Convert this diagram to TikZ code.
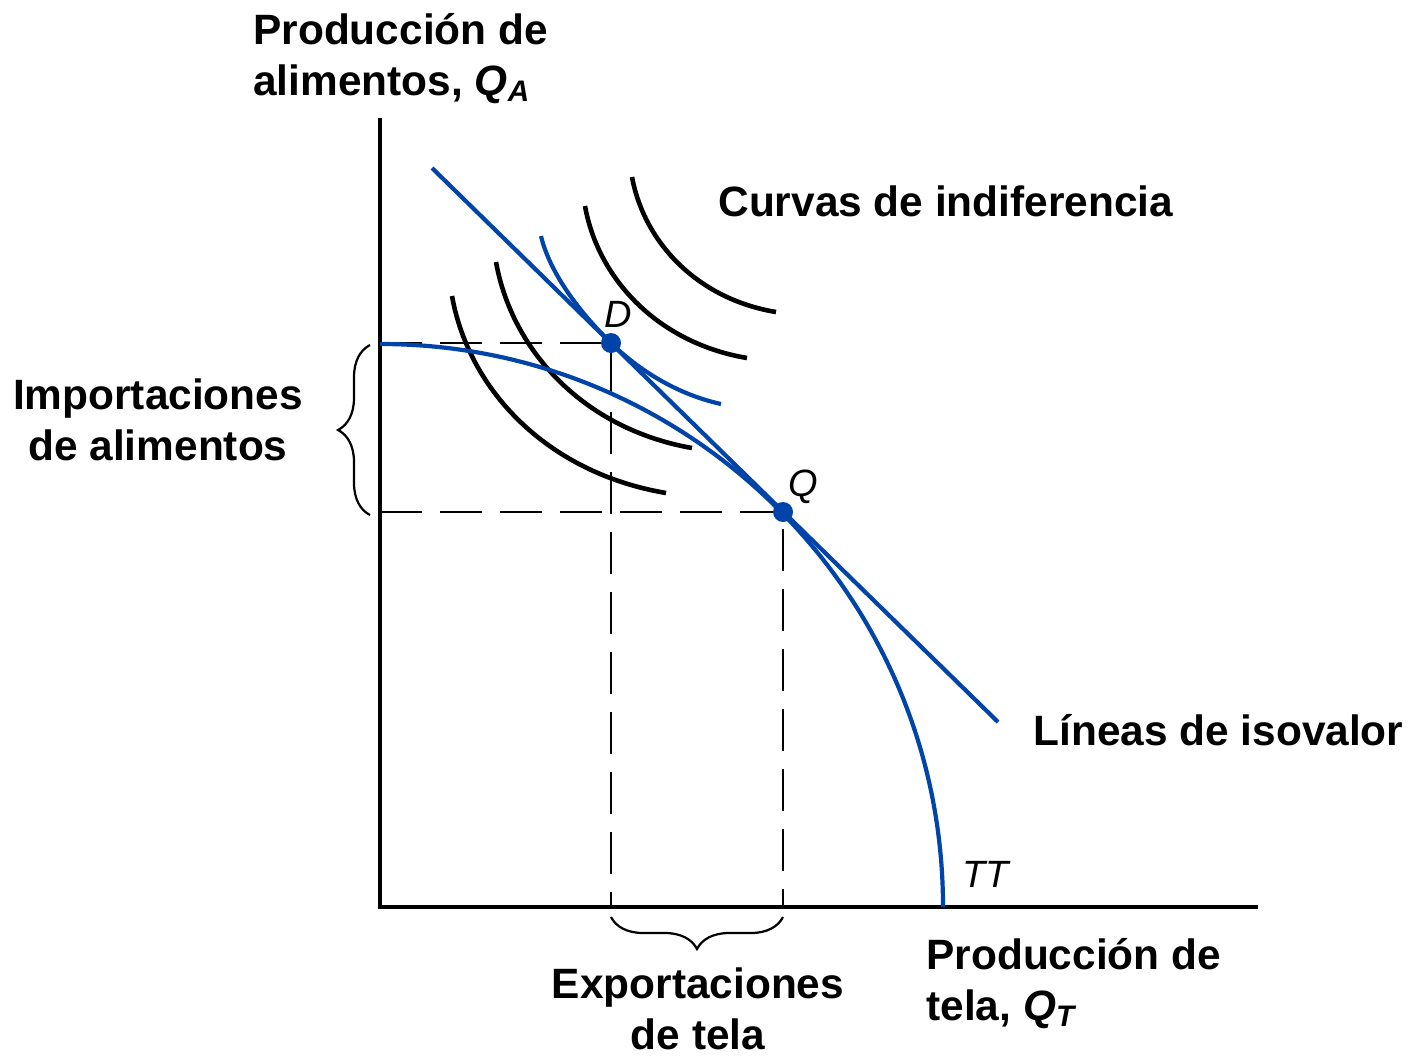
\documentclass[tikz,border=0pt]{standalone}
\usepackage{fontspec}
\setmainfont{Liberation Sans}
\usetikzlibrary{decorations.pathreplacing}
\definecolor{ttblue}{RGB}{0,68,170}

\begin{document}
\begin{tikzpicture}[x=0.5pt,y=-0.5pt,
    icurve/.style={line width=2.3pt},
    bluecurve/.style={ttblue,line width=2.1pt},
    guide/.style={line width=1.3pt,dash pattern=on 21pt off 9pt},
    bracket/.style={line width=1.1pt,decorate,decoration={brace,amplitude=16pt}},
    lbl/.style={font=\bfseries\fontsize{21.2}{25.5}\selectfont,inner sep=0pt},
    ptlbl/.style={font=\itshape\fontsize{19}{22}\selectfont,inner sep=0pt}]
\useasboundingbox (0,0) rectangle (1411,1060);
\coordinate (O) at (380,907);
\coordinate (D) at (611,343);
\coordinate (Q) at (783,512);

% axes
\draw[line width=2.1pt] (380,118) coordinate (ytop) -- (O) -- (1258,907) coordinate (xend);

% guides
\draw[guide] (380,343) -- (D) -- (611,907);
\draw[guide] (380,512) -- (Q) -- (783,907);

% indifference curves
\draw[icurve] (452,296) .. controls (469,391) and (548,473) .. (666,493);
\draw[icurve] (496,262) .. controls (512,351) and (584,429) .. (692,448);
\draw[icurve] (585,206) .. controls (598,279) and (658,343) .. (747,358);
\draw[icurve] (632,177) .. controls (644,242) and (697,299) .. (776,312);
\draw[bluecurve] (541,236) .. controls (548,266) and (571,303.8) .. (D)
    .. controls (641,372.4) and (680,395) .. (721,404);

% production frontier and isovalue line
\draw[bluecurve] (380,344) arc[start angle=90,end angle=0,radius=281.5pt] coordinate (TTend);
\draw[bluecurve] (432,168) coordinate (L1) -- (998,722) coordinate (L2);
\fill[ttblue] (D) circle[radius=5pt];
\fill[ttblue] (Q) circle[radius=5pt];

% braces
\draw[bracket] (370,515) -- (370,345);
\draw[bracket] (783,917) -- (611,917);

% labels
\node[ptlbl,anchor=base west] (Dlbl) at (604,327) {D};
\node[ptlbl,anchor=base west] (Qlbl) at (788,496) {Q};
\node[ptlbl,anchor=base west] (TTlbl) at (962,887) {TT};
\node[lbl,anchor=base west,align=left] (ylbl) at (253,95)
    {Producción de\\alimentos, \textit{Q}\textsubscript{\textit{A}}};
\node[lbl,anchor=base west] (icl) at (718,216) {Curvas de indiferencia};
\node[lbl,anchor=base,align=center] (imp) at (158,460) {Importaciones\\de alimentos};
\node[lbl,anchor=base west] (isol) at (1033,745) {Líneas de isovalor};
\node[lbl,anchor=base west,align=left] (xlbl) at (926,1020)
    {Producción de\\tela, \textit{Q}\textsubscript{\textit{T}}};
\node[lbl,anchor=base,align=center] (exp) at (698,1049) {Exportaciones\\de tela};
\end{tikzpicture}
\end{document}
